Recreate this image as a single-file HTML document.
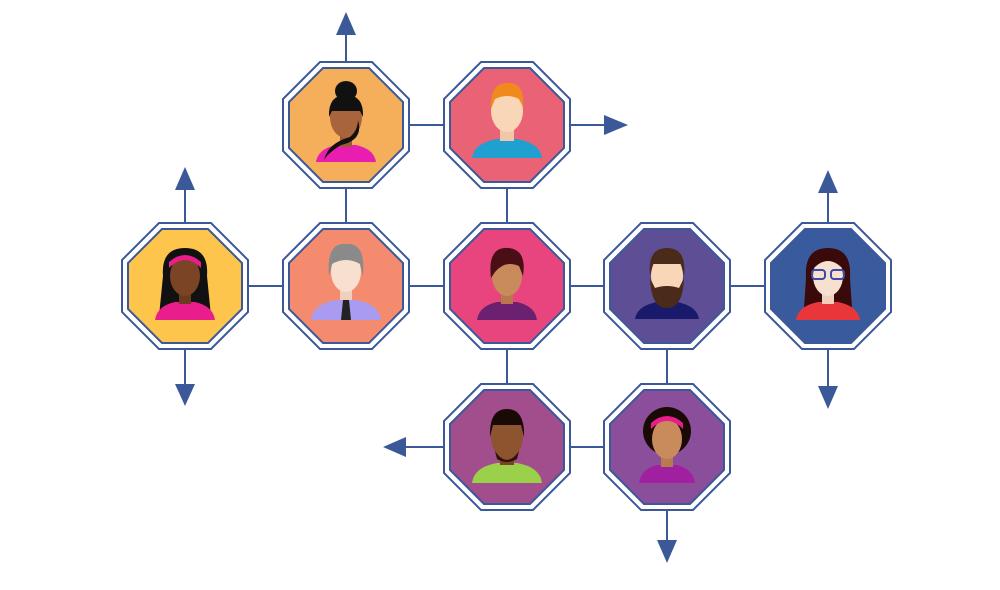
<!DOCTYPE html>
<html><head><meta charset="utf-8"><style>html,body{margin:0;padding:0;background:#fff}svg{display:block}</style></head>
<body>
<svg width="1000" height="590" viewBox="0 0 1000 590" xmlns="http://www.w3.org/2000/svg">
<defs>
<polygon id="o" points="-26,-63 26,-63 63,-26 63,26 26,63 -26,63 -63,26 -63,-26"/>
<polygon id="i" points="-23,-57 23,-57 57,-23 57,23 23,57 -23,57 -57,23 -57,-23"/>
</defs>
<g stroke="#3b5998" stroke-width="2" fill="#3b5998">
<!-- connectors -->
<line x1="185" y1="286" x2="828" y2="286"/>
<line x1="346" y1="125" x2="507" y2="125"/>
<line x1="507" y1="447" x2="667" y2="447"/>
<line x1="346" y1="125" x2="346" y2="286"/>
<line x1="507" y1="125" x2="507" y2="447"/>
<line x1="667" y1="286" x2="667" y2="447"/>
<!-- arrows -->
<line x1="346" y1="62" x2="346" y2="32"/><polygon stroke="none" points="336,35 356,35 346,12"/>
<line x1="570" y1="125" x2="607" y2="125"/><polygon stroke="none" points="604,115 604,135 628,125"/>
<line x1="185" y1="223" x2="185" y2="188"/><polygon stroke="none" points="175,190 195,190 185,167"/>
<line x1="185" y1="349" x2="185" y2="387"/><polygon stroke="none" points="175,384 195,384 185,406"/>
<line x1="828" y1="223" x2="828" y2="190"/><polygon stroke="none" points="818,193 838,193 828,170"/>
<line x1="828" y1="349" x2="828" y2="387"/><polygon stroke="none" points="818,386 838,386 828,409"/>
<line x1="444" y1="447" x2="403" y2="447"/><polygon stroke="none" points="406,437 406,457 383,447"/>
<line x1="667" y1="510" x2="667" y2="542"/><polygon stroke="none" points="657,540 677,540 667,563"/>
</g>
<g stroke="#3b5998" stroke-width="2">
<use href="#o" x="346" y="125" fill="#fff"/><use href="#i" x="346" y="125" fill="#f5ae5a"/>
<use href="#o" x="507" y="125" fill="#fff"/><use href="#i" x="507" y="125" fill="#ea6275"/>
<use href="#o" x="185" y="286" fill="#fff"/><use href="#i" x="185" y="286" fill="#fdc54c"/>
<use href="#o" x="346" y="286" fill="#fff"/><use href="#i" x="346" y="286" fill="#f58b6e"/>
<use href="#o" x="507" y="286" fill="#fff"/><use href="#i" x="507" y="286" fill="#e8457f"/>
<use href="#o" x="667" y="286" fill="#fff"/><use href="#i" x="667" y="286" fill="#5e4e96"/>
<use href="#o" x="828" y="286" fill="#fff"/><use href="#i" x="828" y="286" fill="#3a5a9e"/>
<use href="#o" x="507" y="447" fill="#fff"/><use href="#i" x="507" y="447" fill="#a24d8c"/>
<use href="#o" x="667" y="447" fill="#fff"/><use href="#i" x="667" y="447" fill="#8a4e9a"/>
</g>
<!-- avatars -->
<g transform="translate(346,125)">
<ellipse cx="0" cy="-34" rx="11" ry="10" fill="#111"/>
<path d="M-30,37 Q-28,24 -10,20 L10,20 Q28,24 30,37Z" fill="#e91eb0"/>
<rect x="-6" y="2" width="12" height="20" fill="#9c5a30"/>
<ellipse cx="0" cy="-8" rx="16" ry="21" fill="#a8643a"/>
<path d="M-17,-8 Q-18,-30 0,-30 Q18,-30 17,-8 L14,-14 L-14,-14Z" fill="#111"/>
<path d="M12,-5 Q18,15 -5,20 Q-18,28 -22,35 Q-18,18 4,12 Q12,5 12,-5Z" fill="#111"/>
</g>
<g transform="translate(507,125)">
<path d="M-35,33 Q-33,18 -10,14 L10,14 Q33,18 35,33Z" fill="#1fa0d0"/>
<rect x="-7" y="0" width="14" height="16" fill="#f0c8a8"/>
<ellipse cx="0" cy="-14" rx="16" ry="21" fill="#fad6b8"/>
<path d="M-16,-16 Q-18,-44 4,-42 Q18,-40 16,-18 L12,-26 Q0,-32 -12,-26Z" fill="#f08a1c"/>
</g>
<g transform="translate(185,286)">
<path d="M-22,-10 Q-24,-38 0,-38 Q24,-38 22,-10 L26,30 L-26,30Z" fill="#111"/>
<path d="M-30,34 Q-28,20 -10,16 L10,16 Q28,20 30,34Z" fill="#e91e8c"/>
<rect x="-6" y="2" width="12" height="16" fill="#6b3a1f"/>
<ellipse cx="0" cy="-10" rx="15" ry="20" fill="#7b4424"/>
<path d="M-16,-18 Q0,-34 16,-18 L16,-24 Q0,-38 -16,-24Z" fill="#e91e8c"/>
</g>
<g transform="translate(346,286)">
<path d="M-35,34 Q-33,18 -10,14 L10,14 Q33,18 35,34Z" fill="#a99cf0"/>
<polygon points="-3,14 3,14 5,34 -5,34" fill="#222"/>
<rect x="-6" y="0" width="12" height="14" fill="#f0d0bd"/>
<ellipse cx="0" cy="-14" rx="15" ry="20" fill="#f7e0d0"/>
<path d="M-17,-10 Q-20,-44 0,-42 Q20,-44 17,-10 L14,-22 Q0,-30 -14,-22Z" fill="#8a8a8a"/>
</g>
<g transform="translate(507,286)">
<path d="M-30,34 Q-28,20 -10,16 L10,16 Q28,20 30,34Z" fill="#6b2070"/>
<rect x="-6" y="2" width="12" height="16" fill="#b8784e"/>
<ellipse cx="0" cy="-10" rx="15" ry="20" fill="#c98a5c"/>
<path d="M-16,-8 Q-20,-40 2,-38 Q20,-36 16,-10 L12,-20 Q-2,-26 -12,-14Z" fill="#4a0f14"/>
</g>
<g transform="translate(667,286)">
<path d="M-32,33 Q-30,20 -10,16 L10,16 Q30,20 32,33Z" fill="#1a1a6a"/>
<ellipse cx="0" cy="-10" rx="16" ry="22" fill="#fad6b8"/>
<path d="M-17,-8 Q-16,22 0,22 Q16,22 17,-8 L12,2 Q0,-2 -12,2Z" fill="#4a2a18"/>
<path d="M-17,-10 Q-20,-38 0,-38 Q20,-38 17,-10 L14,-22 L-14,-22Z" fill="#4a2a18"/>
</g>
<g transform="translate(828,286)">
<path d="M-22,-8 Q-24,-38 0,-38 Q24,-38 22,-8 L24,22 L-24,22Z" fill="#3a0a0a"/>
<path d="M-32,34 Q-30,20 -10,16 L10,16 Q30,20 32,34Z" fill="#e8363a"/>
<rect x="-6" y="2" width="12" height="16" fill="#f0d0bd"/>
<ellipse cx="0" cy="-10" rx="15" ry="20" fill="#f7e0d0"/>
<path d="M-16,-16 Q0,-34 16,-16 L16,-26 Q0,-38 -16,-26Z" fill="#3a0a0a"/>
<g fill="none" stroke="#3a4aa8" stroke-width="2"><rect x="-16" y="-16" width="13" height="9" rx="3"/><rect x="3" y="-16" width="13" height="9" rx="3"/></g>
</g>
<g transform="translate(507,447)">
<path d="M-35,36 Q-33,20 -10,16 L10,16 Q33,20 35,36Z" fill="#9ad04a"/>
<rect x="-7" y="2" width="14" height="16" fill="#7a4422"/>
<ellipse cx="0" cy="-10" rx="16" ry="22" fill="#8e5430"/>
<path d="M-12,4 Q0,22 12,4 L10,12 Q0,18 -10,12Z" fill="#2a1408"/>
<path d="M-17,-10 Q-18,-38 0,-38 Q18,-38 17,-10 L14,-22 L-14,-22Z" fill="#1a0a05"/>
</g>
<g transform="translate(667,447)">
<circle cx="0" cy="-16" r="24" fill="#1a0a05"/>
<path d="M-28,36 Q-26,22 -10,18 L10,18 Q26,22 28,36Z" fill="#a020a0"/>
<rect x="-6" y="2" width="12" height="18" fill="#b87a4e"/>
<ellipse cx="0" cy="-8" rx="15" ry="20" fill="#c98a5c"/>
<path d="M-16,-18 Q0,-34 16,-18 L16,-24 Q0,-38 -16,-24Z" fill="#e91e8c"/>
</g>
</svg>
</body></html>
